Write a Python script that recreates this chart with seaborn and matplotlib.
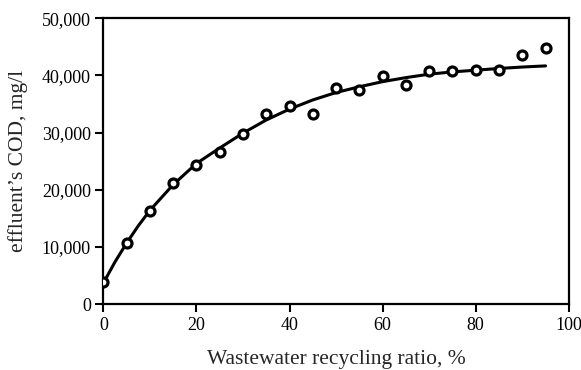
import matplotlib
matplotlib.use("Agg")
import matplotlib.pyplot as plt
import matplotlib.ticker as mticker
import seaborn as sns
import pandas as pd

ratio = [0, 5, 10, 15, 20, 25, 30, 35, 40, 45, 50, 55, 60, 65, 70, 75, 80, 85, 90, 95]
cod = [3800, 10700, 16300, 21200, 24400, 26600, 29700, 33300, 34600, 33300,
       37700, 37400, 39900, 38300, 40700, 40700, 41000, 41000, 43600, 44800]

fit_x = [0, 2.5, 5, 7.5, 10, 15, 20, 25, 30, 35, 40, 45, 50, 55, 60, 65, 70, 75, 80, 85, 90, 95]
fit_y = [3700, 7400, 10700, 13700, 16400, 20900, 24600, 27300, 29900, 32200, 34100, 35700,
         37000, 38000, 38900, 39600, 40200, 40600, 40900, 41200, 41450, 41650]

xticks = [0, 20, 40, 60, 80, 100]
yticks = [0, 10000, 20000, 30000, 40000, 50000]

sns.set_theme(style="ticks")
plt.rcParams['font.family'] = ['Liberation Serif', 'DejaVu Serif']

pts = pd.DataFrame({"ratio": ratio, "cod": cod})
fit = pd.DataFrame({"x": fit_x, "y": fit_y})

fig = plt.figure(figsize=(5.81, 3.70), dpi=100)
ax = fig.add_axes([0.178, 0.178, 0.801, 0.773])

sns.lineplot(data=fit, x="x", y="y", ax=ax, color="black", linewidth=2.2, zorder=2)
sns.scatterplot(data=pts, x="ratio", y="cod", ax=ax, marker="o", s=42,
                facecolor="white", edgecolor="black", linewidth=2.3, zorder=3)

ax.set_xlim(0, 100)
ax.set_ylim(0, 50000)
ax.set_xticks(xticks)
ax.set_yticks(yticks)
ax.yaxis.set_major_formatter(mticker.FuncFormatter(lambda v, p: f"{int(v):,}"))
ax.tick_params(axis="both", direction="out", length=6, width=1.5, labelsize=13,
               colors="black", pad=3)
for sp in ax.spines.values():
    sp.set_linewidth(1.6)
    sp.set_color("black")
ax.set_xlabel("Wastewater recycling ratio, %", fontsize=15.5, labelpad=12)
ax.set_ylabel("effluent\u2019s COD, mg/l", fontsize=15.5, labelpad=10)

fig.savefig("out.png", dpi=100)
